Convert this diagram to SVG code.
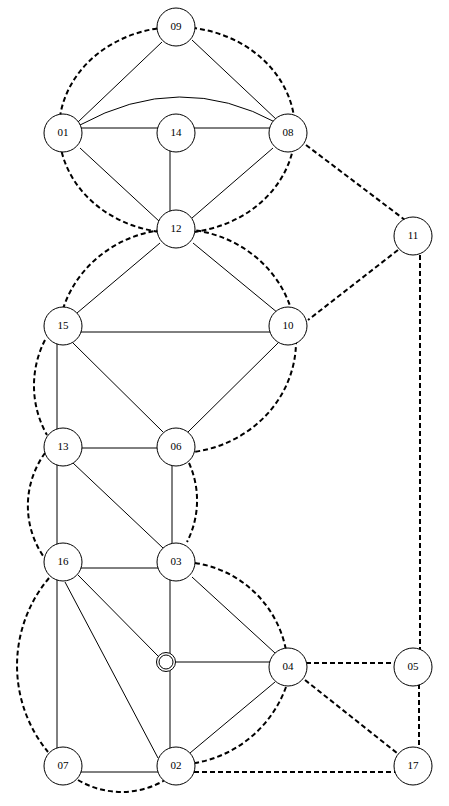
<svg xmlns="http://www.w3.org/2000/svg" width="449" height="806" viewBox="0 0 449 806">
<style>
.e{stroke:#000;stroke-width:1;fill:none}
.d{stroke:#000;stroke-width:2;stroke-dasharray:5 3;fill:none}
.n circle{fill:#fff;stroke:#000;stroke-width:1}
.n text{font-family:"Liberation Serif","DejaVu Serif",serif;font-size:11px;text-anchor:middle;fill:#000}
</style>
<rect width="449" height="806" fill="#fff"/>
<g id="connectors">
<ellipse class="d" cx="177" cy="130" rx="118" ry="103"/>
<path class="d" d="M63 309 A119 112 0 1 1 177 453"/>
<path class="d" d="M45 340 A100 100 0 0 0 47 435"/>
<path class="d" d="M45 453 A90 90 0 0 0 46 560"/>
<path class="d" d="M49 578 A136 136 0 0 0 48 752"/>
<path class="d" d="M189 463 A91 91 0 0 1 187 542"/>
<path class="d" d="M195 563 A109 109 0 0 1 286 650"/>
<path class="d" d="M286 687 A118 118 0 0 1 195 763"/>
<path class="d" d="M78 780 A85 85 0 0 0 165 780"/>
<line class="d" x1="306" y1="145" x2="405" y2="220"/>
<line class="d" x1="398" y1="250" x2="308" y2="320"/>
<line class="d" x1="420" y1="255" x2="420" y2="650"/>
<line class="d" x1="419" y1="684" x2="419" y2="750"/>
<line class="d" x1="306" y1="663" x2="395" y2="663"/>
<line class="d" x1="305" y1="680" x2="402" y2="757"/>
<line class="d" x1="194" y1="772" x2="396" y2="772"/>
<line class="e" x1="162" y1="42" x2="78" y2="122"/>
<line class="e" x1="192" y1="40" x2="277" y2="120"/>
<path class="e" d="M80 125 Q180 70 277 123"/>
<line class="e" x1="70" y1="128" x2="282" y2="128"/>
<line class="e" x1="170" y1="140" x2="170" y2="215"/>
<line class="e" x1="80" y1="148" x2="160" y2="222"/>
<line class="e" x1="273" y1="148" x2="192" y2="218"/>
<line class="e" x1="160" y1="243" x2="77" y2="313"/>
<line class="e" x1="193" y1="243" x2="278" y2="313"/>
<line class="e" x1="70" y1="332" x2="282" y2="332"/>
<line class="e" x1="73" y1="343" x2="163" y2="432"/>
<line class="e" x1="278" y1="343" x2="188" y2="432"/>
<line class="e" x1="57" y1="335" x2="57" y2="560"/>
<line class="e" x1="57" y1="570" x2="57" y2="760"/>
<line class="e" x1="70" y1="448" x2="170" y2="448"/>
<line class="e" x1="73" y1="463" x2="163" y2="548"/>
<line class="e" x1="172" y1="455" x2="172" y2="555"/>
<line class="e" x1="70" y1="568" x2="170" y2="568"/>
<line class="e" x1="78" y1="575" x2="158" y2="656"/>
<line class="e" x1="65" y1="582" x2="158" y2="758"/>
<line class="e" x1="170" y1="570" x2="170" y2="760"/>
<line class="e" x1="192" y1="577" x2="275" y2="653"/>
<line class="e" x1="165" y1="662" x2="280" y2="662"/>
<line class="e" x1="275" y1="682" x2="190" y2="753"/>
<line class="e" x1="70" y1="772" x2="170" y2="772"/>
</g>
<g id="n09" class="n"><circle cx="176" cy="27" r="19"/><text x="176" y="30">09</text></g>
<g id="n01" class="n"><circle cx="63" cy="133" r="19"/><text x="63" y="136">01</text></g>
<g id="n14" class="n"><circle cx="176" cy="133" r="19"/><text x="176" y="136">14</text></g>
<g id="n08" class="n"><circle cx="288" cy="133" r="19"/><text x="288" y="136">08</text></g>
<g id="n12" class="n"><circle cx="176" cy="229" r="19"/><text x="176" y="232">12</text></g>
<g id="n11" class="n"><circle cx="413" cy="236" r="19"/><text x="413" y="239">11</text></g>
<g id="n15" class="n"><circle cx="63" cy="326" r="19"/><text x="63" y="329">15</text></g>
<g id="n10" class="n"><circle cx="288" cy="326" r="19"/><text x="288" y="329">10</text></g>
<g id="n13" class="n"><circle cx="63" cy="447" r="19"/><text x="63" y="450">13</text></g>
<g id="n06" class="n"><circle cx="176" cy="447" r="19"/><text x="176" y="450">06</text></g>
<g id="n16" class="n"><circle cx="63" cy="562" r="19"/><text x="63" y="565">16</text></g>
<g id="n03" class="n"><circle cx="176" cy="562" r="19"/><text x="176" y="565">03</text></g>
<g id="nS" class="n"><circle cx="166" cy="662" r="9.5" stroke-width="2"/><circle cx="166" cy="662" r="7" stroke-width="1.8"/></g>
<g id="n04" class="n"><circle cx="288" cy="667" r="19"/><text x="288" y="670">04</text></g>
<g id="n05" class="n"><circle cx="413" cy="667" r="19"/><text x="413" y="670">05</text></g>
<g id="n07" class="n"><circle cx="63" cy="766" r="19"/><text x="63" y="769">07</text></g>
<g id="n02" class="n"><circle cx="176" cy="766" r="19"/><text x="176" y="769">02</text></g>
<g id="n17" class="n"><circle cx="413" cy="766" r="19"/><text x="413" y="769">17</text></g>
</svg>
